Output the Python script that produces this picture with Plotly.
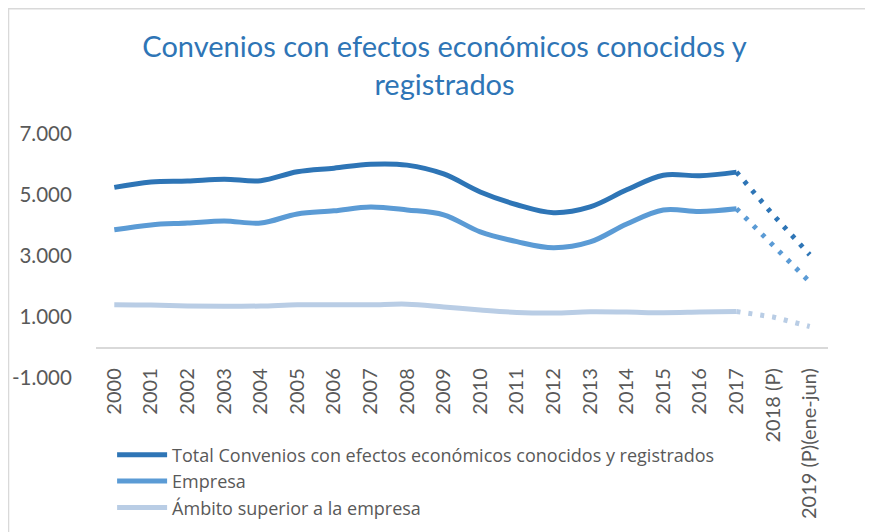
import plotly.graph_objects as go

# categories and values
years = ["2000", "2001", "2002", "2003", "2004", "2005", "2006", "2007", "2008", "2009",
         "2010", "2011", "2012", "2013", "2014", "2015", "2016", "2017",
         "2018 (P)", "2019 (P)(ene-jun)"]
total = [5250, 5430, 5460, 5520, 5470, 5760, 5880, 6010, 5980, 5690,
         5100, 4680, 4420, 4610, 5170, 5650, 5630, 5750, 4350, 3040]
empresa = [3860, 4020, 4080, 4150, 4080, 4380, 4480, 4610, 4510, 4350,
           3790, 3470, 3270, 3460, 4050, 4510, 4460, 4550, 3370, 2150]
ambito = [1400, 1390, 1360, 1350, 1360, 1400, 1400, 1400, 1420, 1330,
          1230, 1150, 1130, 1170, 1160, 1140, 1160, 1180, 1000, 690]
y_ticks = [-1000, 1000, 3000, 5000, 7000]
y_tick_text = ["-1.000", "1.000", "3.000", "5.000", "7.000"]

names = ["Total Convenios con efectos económicos conocidos y registrados",
         "Empresa", "Ámbito superior a la empresa"]
colors = ["#2E75B6", "#5B9BD5", "#B9CDE5"]
font = "Lato"
grey = "#595959"

fig = go.Figure()
last_real = years.index("2017")
for name, vals, col in zip(names, [total, empresa, ambito], colors):
    # solid, smoothed part up to 2017
    fig.add_trace(go.Scatter(x=years[:last_real + 1], y=vals[:last_real + 1], mode="lines",
                             name=name, line=dict(color=col, width=5, shape="spline")))
    # dotted projection 2017 -> 2019
    fig.add_trace(go.Scatter(x=years[last_real:], y=vals[last_real:], mode="lines",
                             showlegend=False, line=dict(color=col, width=5, dash="4px,8px")))

# the page body adds an 8px offset, so everything is placed 8px up/left.
# paper runs from y=126 to the bottom of the figure; the plot sits in its upper
# part so the legend underneath stays inside the paper and pushes no margin.
fig.update_layout(
    width=873, height=532,
    template="none",
    paper_bgcolor="white", plot_bgcolor="white",
    margin=dict(l=88, r=53, t=126, b=0),
    font=dict(family=font, color=grey),
    title=dict(text="Convenios con efectos económicos conocidos y<br>registrados",
               x=0.5, xref="container", xanchor="center",
               y=0.907, yref="container", yanchor="top",
               font=dict(family=font, size=29, color="#2E75B6")),
    legend=dict(x=0.022, y=0.255, xanchor="left", yanchor="top",
                font=dict(family="Open Sans", size=18, color=grey),
                bgcolor="rgba(0,0,0,0)", tracegroupgap=0, itemwidth=50),
    showlegend=True,
    shapes=[dict(type="rect", xref="paper", yref="paper",
                 x0=-0.1195, x1=1.2, y0=-0.1, y1=1.3085,
                 line=dict(color="#D9D9D9", width=1.5), layer="below")],
)
fig.update_xaxes(type="category", range=[-0.5, 19.5], anchor="free", position=0.4741,
                 showline=True, linecolor="#D9D9D9", linewidth=1.5, showgrid=False,
                 zeroline=False, ticks="outside", ticklen=12, tickcolor="rgba(0,0,0,0)",
                 tickangle=-90, automargin=False,
                 tickfont=dict(family=font, size=20, color=grey))
fig.update_yaxes(domain=[0.399, 1], range=[-1000, 7000], tickvals=y_ticks,
                 ticktext=y_tick_text, showgrid=False, zeroline=False, showline=False,
                 automargin=False, ticks="outside", ticklen=19,
                 tickcolor="rgba(0,0,0,0)",
                 tickfont=dict(family=font, size=20.5, color=grey))

fig.write_html("out.html")
